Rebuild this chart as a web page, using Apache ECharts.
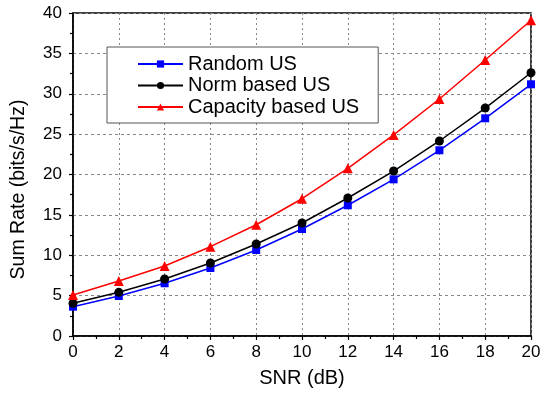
<!DOCTYPE html>
<html>
<head>
<meta charset="utf-8">
<script src="https://cdn.jsdelivr.net/npm/echarts@6/dist/echarts.min.js"></script>
<style>html,body{margin:0;padding:0;background:#fff;}#c{width:548px;height:393px;}</style>
</head>
<body>
<div id="c"></div>
<script>
const snr = [0, 2, 4, 6, 8, 10, 12, 14, 16, 18, 20];
const randomUS = [3.63, 4.95, 6.53, 8.42, 10.65, 13.25, 16.19, 19.4, 23.0, 26.96, 31.17];
const normUS = [4.05, 5.41, 7.06, 9.04, 11.39, 13.99, 17.09, 20.43, 24.15, 28.23, 32.6];
const capacityUS = [5.08, 6.81, 8.67, 11.06, 13.78, 17.0, 20.77, 24.9, 29.35, 34.18, 39.1];
const seriesNames = ['Random US', 'Norm based US', 'Capacity based US'];
const xTitle = 'SNR (dB)';
const yTitle = 'Sum Rate (bits/s/Hz)';

const FONT = 'Liberation Sans, Arial, sans-serif';
const pair = (ys) => snr.map((x, i) => [x, ys[i]]);

const chart = echarts.init(document.getElementById('c'), null, {renderer: 'canvas'});
chart.setOption({
  animation: false,
  backgroundColor: '#fff',
  textStyle: {fontFamily: FONT},
  grid: {left: 73, right: 17, top: 13, bottom: 57, show: true, borderColor: '#000', borderWidth: 1.5, backgroundColor: 'transparent'},
  legend: {
    orient: 'vertical', left: 107, top: 47,
    padding: [7, 19, 6, 30],
    itemWidth: 45, itemHeight: 9, itemGap: 1.5,
    backgroundColor: '#fff', borderColor: '#555', borderWidth: 1,
    textStyle: {fontFamily: FONT, fontSize: 20, color: '#000', lineHeight: 20},
    data: seriesNames
  },
  xAxis: {
    type: 'value', min: 0, max: 20, interval: 2,
    name: xTitle, nameLocation: 'middle', nameGap: 32,
    nameTextStyle: {fontFamily: FONT, fontSize: 20, color: '#000'},
    axisLine: {lineStyle: {color: '#000', width: 1.5}},
    axisTick: {inside: false, length: 4, lineStyle: {color: '#000', width: 1.2}},
    minorTick: {show: true, splitNumber: 2, length: 3, lineStyle: {color: '#000', width: 1.2}},
    axisLabel: {fontFamily: FONT, fontSize: 17, color: '#000', margin: 8},
    splitLine: {show: true, lineStyle: {color: '#888', type: [2, 3], width: 1}}
  },
  yAxis: {
    type: 'value', min: 0, max: 40, interval: 5,
    name: yTitle, nameLocation: 'middle', nameGap: 44,
    nameTextStyle: {fontFamily: FONT, fontSize: 19.5, color: '#000', padding: [0, 30, 0, 0]},
    axisLine: {lineStyle: {color: '#000', width: 1.5}},
    axisTick: {inside: false, length: 4, lineStyle: {color: '#000', width: 1.2}},
    minorTick: {show: true, splitNumber: 2, length: 3, lineStyle: {color: '#000', width: 1.2}},
    axisLabel: {fontFamily: FONT, fontSize: 17, color: '#000', margin: 11},
    splitLine: {show: true, lineStyle: {color: '#888', type: [3, 3], width: 1}}
  },
  series: [
    {name: seriesNames[0], type: 'line', data: pair(randomUS), color: '#0000ff',
     symbol: 'rect', symbolSize: 8, lineStyle: {width: 1.5}, itemStyle: {color: '#0000ff'}},
    {name: seriesNames[1], type: 'line', data: pair(normUS), color: '#000',
     symbol: 'circle', symbolSize: 9, lineStyle: {width: 1.5}, itemStyle: {color: '#000'}},
    {name: seriesNames[2], type: 'line', data: pair(capacityUS), color: '#ff0000',
     symbol: 'triangle', symbolSize: 10, lineStyle: {width: 1.5}, itemStyle: {color: '#ff0000'}}
  ]
});
</script>
</body>
</html>
